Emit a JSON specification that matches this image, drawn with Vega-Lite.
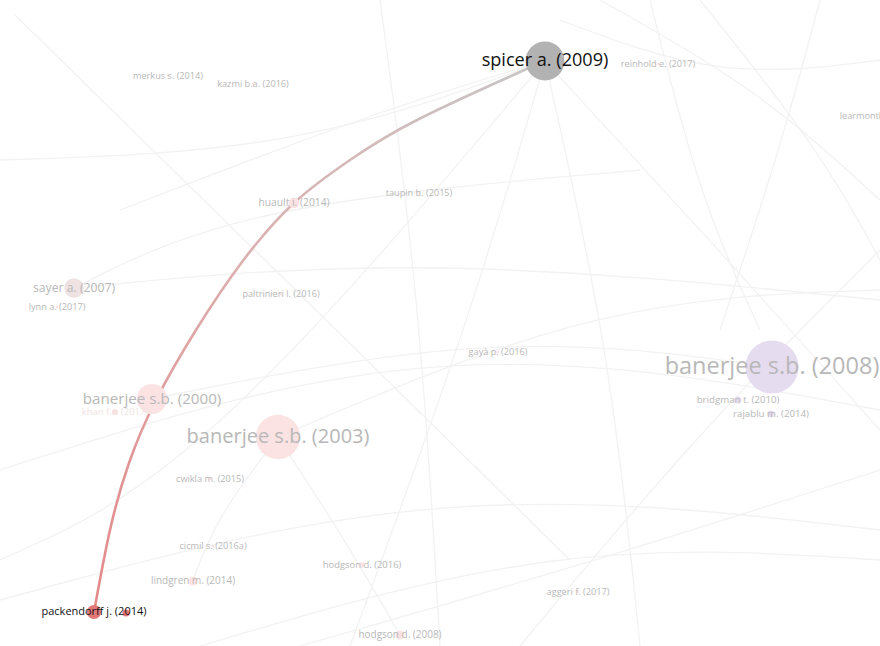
{
  "$schema": "https://vega.github.io/schema/vega-lite/v6.json",
  "width": 880,
  "height": 646,
  "padding": 0,
  "autosize": {"type": "none"},
  "background": "white",
  "config": {"view": {"stroke": null}},
  "datasets": {
    "nodes": [
      {"label": "spicer a. (2009)", "x": 545, "y": 61, "r": 22, "group": "hl-gray", "status": "hl"},
      {"label": "packendorff j. (2014)", "x": 94, "y": 612, "r": 8, "group": "hl-red", "status": "hl"},
      {"label": "", "x": 126, "y": 613, "r": 4, "group": "hl-red", "status": "hl"},
      {"label": "banerjee s.b. (2008)", "x": 772, "y": 367, "r": 30, "group": "purple", "status": "faded"},
      {"label": "banerjee s.b. (2003)", "x": 278, "y": 437, "r": 25, "group": "pink", "status": "faded"},
      {"label": "banerjee s.b. (2000)", "x": 152, "y": 399, "r": 17, "group": "pink", "status": "faded"},
      {"label": "sayer a. (2007)", "x": 74, "y": 288, "r": 11, "group": "pinkgray", "status": "faded"},
      {"label": "huault i. (2014)", "x": 294, "y": 203, "r": 6, "group": "pink", "status": "faded"},
      {"label": "lindgren m. (2014)", "x": 193, "y": 581, "r": 5, "group": "pink", "status": "faded"},
      {"label": "hodgson d. (2008)", "x": 400, "y": 635, "r": 5, "group": "pink", "status": "faded"},
      {"label": "hodgson d. (2016)", "x": 362, "y": 565, "r": 3, "group": "pink", "status": "faded"},
      {"label": "bridgman t. (2010)", "x": 738, "y": 400, "r": 4, "group": "purple", "status": "faded"},
      {"label": "rajablu m. (2014)", "x": 771, "y": 414, "r": 4, "group": "purple", "status": "faded"},
      {"label": "khan f.r. (2017)", "x": 115, "y": 412, "r": 3.5, "group": "pink", "status": "hidden"},
      {"label": "merkus s. (2014)", "x": 168, "y": 76, "r": 1.5, "group": "pink", "status": "faded"},
      {"label": "kazmi b.a. (2016)", "x": 253, "y": 84, "r": 1.5, "group": "pink", "status": "faded"},
      {"label": "taupin b. (2015)", "x": 419, "y": 193, "r": 1.5, "group": "pink", "status": "faded"},
      {"label": "lynn a. (2017)", "x": 57, "y": 307, "r": 1.5, "group": "pink", "status": "faded"},
      {"label": "paltrinieri l. (2016)", "x": 281, "y": 294, "r": 1.5, "group": "pink", "status": "faded"},
      {"label": "gayà p. (2016)", "x": 498, "y": 352, "r": 1.5, "group": "pink", "status": "faded"},
      {"label": "cwikla m. (2015)", "x": 210, "y": 479, "r": 1.5, "group": "pink", "status": "faded"},
      {"label": "cicmil s. (2016a)", "x": 213, "y": 546, "r": 1.5, "group": "pink", "status": "faded"},
      {"label": "aggeri f. (2017)", "x": 578, "y": 592, "r": 1.5, "group": "pink", "status": "faded"},
      {"label": "reinhold e. (2017)", "x": 658, "y": 64, "r": 1.5, "group": "pink", "status": "faded"},
      {"label": "learmonth j. (2017)", "x": 880, "y": 116, "r": 1.5, "group": "olive", "status": "faded"}
    ],
    "mainEdge": [
      {"k": 0, "x": 94, "y": 612},
      {"k": 1, "x": 110, "y": 530},
      {"k": 2, "x": 129, "y": 463},
      {"k": 3, "x": 156, "y": 400},
      {"k": 4, "x": 196, "y": 330},
      {"k": 5, "x": 242, "y": 262},
      {"k": 6, "x": 294, "y": 203},
      {"k": 7, "x": 350, "y": 160},
      {"k": 8, "x": 417, "y": 120},
      {"k": 9, "x": 520, "y": 72},
      {"k": 10, "x": 545, "y": 61}
    ],
    "faint": [
      {"e": "a", "k": 0, "x": 15, "y": 15}, {"e": "a", "k": 1, "x": 260, "y": 255}, {"e": "a", "k": 2, "x": 570, "y": 560},
      {"e": "b", "k": 0, "x": 74, "y": 288}, {"e": "b", "k": 1, "x": 240, "y": 205}, {"e": "b", "k": 2, "x": 640, "y": 170},
      {"e": "c", "k": 0, "x": 74, "y": 288}, {"e": "c", "k": 1, "x": 420, "y": 255}, {"e": "c", "k": 2, "x": 880, "y": 300},
      {"e": "d", "k": 0, "x": 545, "y": 61}, {"e": "d", "k": 1, "x": 470, "y": 320}, {"e": "d", "k": 2, "x": 350, "y": 646},
      {"e": "f", "k": 0, "x": 545, "y": 61}, {"e": "f", "k": 1, "x": 610, "y": 350}, {"e": "f", "k": 2, "x": 640, "y": 646},
      {"e": "g", "k": 0, "x": 545, "y": 61}, {"e": "g", "k": 1, "x": 710, "y": 240}, {"e": "g", "k": 2, "x": 880, "y": 430},
      {"e": "h", "k": 0, "x": 545, "y": 61}, {"e": "h", "k": 1, "x": 380, "y": 110}, {"e": "h", "k": 2, "x": 120, "y": 210},
      {"e": "i", "k": 0, "x": 0, "y": 470}, {"e": "i", "k": 1, "x": 440, "y": 330}, {"e": "i", "k": 2, "x": 880, "y": 410},
      {"e": "j", "k": 0, "x": 151, "y": 399}, {"e": "j", "k": 1, "x": 500, "y": 330}, {"e": "j", "k": 2, "x": 772, "y": 367},
      {"e": "l", "k": 0, "x": 278, "y": 437}, {"e": "l", "k": 1, "x": 600, "y": 300}, {"e": "l", "k": 2, "x": 880, "y": 290},
      {"e": "m", "k": 0, "x": 0, "y": 600}, {"e": "m", "k": 1, "x": 440, "y": 480}, {"e": "m", "k": 2, "x": 880, "y": 530},
      {"e": "n", "k": 0, "x": 200, "y": 646}, {"e": "n", "k": 1, "x": 560, "y": 540}, {"e": "n", "k": 2, "x": 880, "y": 560},
      {"e": "o", "k": 0, "x": 380, "y": 0}, {"e": "o", "k": 1, "x": 420, "y": 300}, {"e": "o", "k": 2, "x": 440, "y": 646},
      {"e": "p", "k": 0, "x": 650, "y": 0}, {"e": "p", "k": 1, "x": 700, "y": 200}, {"e": "p", "k": 2, "x": 760, "y": 330},
      {"e": "q", "k": 0, "x": 820, "y": 0}, {"e": "q", "k": 1, "x": 780, "y": 150}, {"e": "q", "k": 2, "x": 720, "y": 330},
      {"e": "r", "k": 0, "x": 600, "y": 0}, {"e": "r", "k": 1, "x": 760, "y": 90}, {"e": "r", "k": 2, "x": 880, "y": 200},
      {"e": "s", "k": 0, "x": 560, "y": 20}, {"e": "s", "k": 1, "x": 720, "y": 80}, {"e": "s", "k": 2, "x": 880, "y": 60},
      {"e": "t", "k": 0, "x": 700, "y": 0}, {"e": "t", "k": 1, "x": 820, "y": 150}, {"e": "t", "k": 2, "x": 880, "y": 260},
      {"e": "u", "k": 0, "x": 880, "y": 250}, {"e": "u", "k": 1, "x": 700, "y": 430}, {"e": "u", "k": 2, "x": 520, "y": 646},
      {"e": "v", "k": 0, "x": 880, "y": 470}, {"e": "v", "k": 1, "x": 600, "y": 560}, {"e": "v", "k": 2, "x": 300, "y": 646},
      {"e": "w", "k": 0, "x": 0, "y": 160}, {"e": "w", "k": 1, "x": 300, "y": 150}, {"e": "w", "k": 2, "x": 545, "y": 61},
      {"e": "x", "k": 0, "x": 278, "y": 437}, {"e": "x", "k": 1, "x": 215, "y": 520}, {"e": "x", "k": 2, "x": 193, "y": 581},
      {"e": "y", "k": 0, "x": 278, "y": 437}, {"e": "y", "k": 1, "x": 345, "y": 540}, {"e": "y", "k": 2, "x": 400, "y": 635},
      {"e": "z", "k": 0, "x": 0, "y": 560}, {"e": "z", "k": 1, "x": 200, "y": 470}, {"e": "z", "k": 2, "x": 545, "y": 61}
    ]
  },
  "layer": [
    {
      "data": {"name": "faint"},
      "mark": {"type": "line", "interpolate": "basis", "color": "#f2f2f2", "strokeWidth": 1.3, "clip": true},
      "encoding": {
        "x": {"field": "x", "type": "quantitative", "scale": {"domain": [0, 880], "nice": false, "zero": false}, "axis": null},
        "y": {"field": "y", "type": "quantitative", "scale": {"domain": [0, 646], "nice": false, "zero": false, "reverse": true}, "axis": null},
        "detail": {"field": "e", "type": "nominal"},
        "order": {"field": "k", "type": "quantitative"}
      }
    },
    {
      "data": {"name": "mainEdge"},
      "mark": {
        "type": "line",
        "interpolate": "natural",
        "strokeWidth": 2.6,
        "color": {
          "gradient": "linear",
          "x1": 0, "y1": 1, "x2": 1, "y2": 0,
          "stops": [
            {"offset": 0, "color": "#e48888"},
            {"offset": 0.5, "color": "#dcb0b0"},
            {"offset": 1, "color": "#c6c6c6"}
          ]
        }
      },
      "encoding": {
        "x": {"field": "x", "type": "quantitative"},
        "y": {"field": "y", "type": "quantitative"},
        "order": {"field": "k", "type": "quantitative"}
      }
    },
    {
      "data": {"name": "nodes"},
      "mark": {"type": "circle", "opacity": 1, "strokeWidth": 0},
      "encoding": {
        "x": {"field": "x", "type": "quantitative"},
        "y": {"field": "y", "type": "quantitative"},
        "size": {"field": "r", "type": "quantitative", "scale": {"type": "pow", "exponent": 2, "domain": [0, 30], "range": [0, 2827]}, "legend": null},
        "color": {"field": "group", "type": "nominal", "scale": {"domain": ["hl-gray", "hl-red", "purple", "pink", "pinkgray", "olive"], "range": ["#b2b2b2", "#e27777", "#e6dcf0", "#fce3e3", "#efe2e2", "#f3f3e6"]}, "legend": null}
      }
    },
    {
      "data": {"name": "nodes"},
      "mark": {"type": "text", "font": "Open Sans", "align": "center", "baseline": "middle", "clip": true},
      "encoding": {
        "x": {"field": "x", "type": "quantitative"},
        "y": {"field": "y", "type": "quantitative"},
        "text": {"field": "label", "type": "nominal"},
        "size": {"field": "r", "type": "quantitative", "scale": {"type": "pow", "exponent": 1.5, "domain": [0, 30], "range": [9, 23.5]}, "legend": null},
        "color": {"field": "status", "type": "nominal", "scale": {"domain": ["hl", "faded", "hidden"], "range": ["#111111", "#b8b8b8", "#f1e3e3"]}, "legend": null}
      }
    }
  ],
  "resolve": {"scale": {"color": "independent", "size": "independent"}}
}
